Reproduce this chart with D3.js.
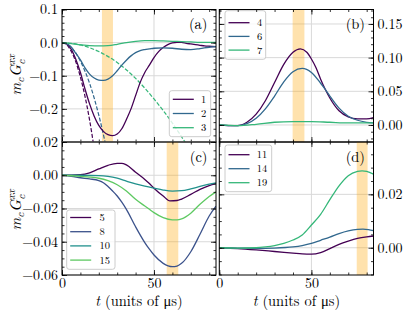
<!DOCTYPE html>
<html>
<head>
<meta charset="utf-8">
<script src="https://cdn.jsdelivr.net/npm/d3@7"></script>
<style>
  body { margin: 0; background: #fff; }
</style>
</head>
<body>
<svg id="figura"></svg>
<script>
// Dominio do tempo (mesmo para todos os paineis)
var dominioT = [0, 83.7];

// ---- Painel (a): curvas 1, 2, 3 e aproximacoes tracejadas ----
var rotulosA = ['1', '2', '3'];
var serie1 = [[0,0],[2.5,-0.004],[5,-0.02],[7.5,-0.05],[10,-0.09],[12.5,-0.14],[15,-0.185],[17.5,-0.222],[20,-0.25],[22.5,-0.268],[25,-0.278],[27.5,-0.281],[30,-0.276],[32.5,-0.26],[35,-0.232],[37.5,-0.2],[40,-0.16],[42.5,-0.12],[45,-0.09],[47.5,-0.068],[50,-0.045],[52.5,-0.027],[55,-0.015],[57.5,-0.006],[60,-0.001],[62.5,0.001],[65,0.0005],[67.5,-0.002],[70,-0.004],[72.5,-0.006],[75,-0.008],[77.5,-0.01],[80,-0.011],[83.7,-0.012]];
var serie2 = [[0,0],[2.5,-0.003],[5,-0.013],[7.5,-0.032],[10,-0.052],[12.5,-0.076],[15,-0.095],[17.5,-0.107],[20,-0.113],[22.5,-0.114],[25,-0.11],[27.5,-0.1],[30,-0.085],[32.5,-0.068],[35,-0.053],[37.5,-0.04],[40,-0.03],[42.5,-0.024],[45,-0.021],[47.5,-0.019],[50,-0.017],[55,-0.016],[60,-0.017],[65,-0.02],[70,-0.021],[75,-0.018],[80,-0.014],[83.7,-0.012]];
var serie3 = [[0,0],[5,-0.003],[10,-0.007],[15,-0.009],[20,-0.01],[25,-0.009],[30,-0.005],[35,0],[40,0.004],[45,0.006],[50,0.006],[55,0.005],[60,0.004],[65,0.003],[70,0.002],[75,0.001],[83.7,0.0005]];
var tracejada1 = [[0,0],[2.5,-0.0065],[5,-0.026],[7.5,-0.058],[10,-0.104],[12.5,-0.162],[15,-0.234],[17.5,-0.32]];
var tracejada2 = [[0,0],[5,-0.014],[10,-0.056],[15,-0.123],[20,-0.219],[24,-0.315]];
var tracejada3 = [[0,0],[10,-0.007],[20,-0.027],[30,-0.06],[40,-0.108],[50,-0.17],[60,-0.243],[68,-0.31]];

// ---- Painel (b): curvas 4, 6, 7 ----
var rotulosB = ['4', '6', '7'];
var serie4 = [[0,0],[5,-0.001],[10,-0.001],[15,0.004],[20,0.016],[25,0.036],[30,0.063],[35,0.09],[40,0.108],[44,0.113],[47.5,0.108],[50,0.098],[52.5,0.085],[55,0.068],[57.5,0.053],[60,0.04],[65,0.021],[70,0.012],[75,0.009],[80,0.009],[83.7,0.011]];
var serie6 = [[0,0],[5,-0.001],[10,-0.001],[15,0.002],[20,0.01],[25,0.024],[30,0.043],[35,0.064],[40,0.079],[45,0.084],[50,0.078],[55,0.062],[57.5,0.053],[60,0.043],[65,0.025],[70,0.013],[75,0.007],[80,0.004],[83.7,0.003]];
var serie7 = [[0,0],[10,-0.001],[20,0.001],[30,0.004],[40,0.005],[50,0.005],[60,0.004],[70,0.003],[83.7,0.003]];

// ---- Painel (c): curvas 5, 8, 10, 15 ----
var rotulosC = ['5', '8', '10', '15'];
var serie5 = [[0,0],[5,0],[10,0.0003],[15,0.0015],[20,0.0038],[25,0.006],[30,0.0072],[32.5,0.0072],[35,0.0062],[40,0.0018],[45,-0.0025],[47.5,-0.005],[50,-0.0078],[55,-0.0125],[58.7,-0.0154],[62.5,-0.0152],[65,-0.0143],[70,-0.0115],[75,-0.0085],[80,-0.0062],[83.7,-0.005]];
var serie8 = [[0,0],[5,-0.0006],[10,-0.0015],[15,-0.0022],[20,-0.0032],[22.5,-0.0045],[25,-0.0068],[27.5,-0.0095],[30,-0.0125],[32.5,-0.0162],[35,-0.0205],[40,-0.031],[45,-0.0405],[47.5,-0.0445],[50,-0.048],[55,-0.053],[60,-0.055],[62.5,-0.0546],[65,-0.053],[70,-0.046],[75,-0.0355],[80,-0.0245],[83.7,-0.0186]];
var serie10 = [[0,0],[10,0],[20,-0.0002],[25,-0.0007],[30,-0.0018],[35,-0.0035],[40,-0.0052],[45,-0.0066],[50,-0.0078],[55,-0.0089],[60,-0.0095],[65,-0.0093],[70,-0.0082],[75,-0.0067],[80,-0.0054],[83.7,-0.0046]];
var serie15 = [[0,0],[5,-0.0003],[10,-0.0007],[15,-0.0011],[20,-0.0018],[25,-0.0033],[30,-0.0057],[35,-0.0095],[40,-0.0145],[45,-0.0185],[47.5,-0.0205],[50,-0.0225],[55,-0.0255],[60,-0.0268],[62.5,-0.0268],[65,-0.0262],[70,-0.0228],[75,-0.0175],[80,-0.0128],[83.7,-0.01]];

// ---- Painel (d): curvas 11, 14, 19 ----
var rotulosD = ['11', '14', '19'];
var serie11 = [[0,0],[10,-0.0003],[20,-0.0008],[30,-0.0014],[40,-0.002],[45,-0.0023],[50,-0.0024],[55,-0.0018],[60,-0.0003],[65,0.0013],[70,0.0025],[75,0.0035],[80,0.0041],[83.7,0.0044]];
var serie14 = [[0,0],[10,-0.0001],[20,-0.0002],[30,-0.0001],[40,0.0003],[45,0.0008],[50,0.0016],[55,0.0028],[60,0.004],[65,0.0053],[70,0.0063],[75,0.0069],[78,0.007],[81,0.0068],[83.7,0.0064]];
var serie19 = [[0,0],[10,-0.0001],[20,0],[25,0.0003],[30,0.0008],[35,0.0016],[40,0.0029],[45,0.0048],[50,0.0085],[55,0.0125],[60,0.018],[65,0.0232],[70,0.027],[75,0.0286],[77.5,0.0288],[80,0.0286],[83.7,0.0276]];

// Faixas laranjas (intervalos de tempo)
var faixaA = [21.7, 27.7];
var faixaB = [39.8, 46.2];
var faixaC = [56.9, 63.2];
var faixaD = [74.6, 80.5];

// Ticks
var ticksT = [0, 50];
var ticksYA = [-0.2, -0.1, 0, 0.1];
var ticksYB = [0, 0.05, 0.1, 0.15];
var ticksYC = [-0.06, -0.04, -0.02, 0, 0.02];
var ticksYD = [0, 0.02];

var FONTE = 'Latin Modern Roman';

var svg = d3.select('#figura').attr('width', 415).attr('height', 312)
            .attr('font-family', FONTE);

function cores(n) {
  var passo = n === 4 ? 0.25 : 1/3;
  return d3.range(n).map(i => d3.interpolateViridis(i*passo));
}

function menores(dom, passo) {
  var a = Math.ceil(dom[0]/passo - 1e-6), b = Math.floor(dom[1]/passo + 1e-6);
  return d3.range(a, b+1).map(i => +(i*passo).toFixed(6));
}

function desenhaPainel(p) {
  var x = d3.scaleLinear().domain(dominioT).range([p.esq, p.dir]);
  var y = d3.scaleLinear().domain(p.domY).range([p.inf, p.sup]);
  var g = svg.append('g');

  svg.append('clipPath').attr('id', 'clip-'+p.nome)
     .append('rect')
     .attr('x', p.esq).attr('y', p.sup)
     .attr('width', p.dir-p.esq).attr('height', p.inf-p.sup);

  // linhas de grade
  var grade = g.append('g').attr('stroke', '#d9d9d9').attr('stroke-width', 1);
  grade.selectAll('.gy').data(p.ticksY).join('line')
       .attr('x1', p.esq).attr('x2', p.dir)
       .attr('y1', d => y(d)).attr('y2', d => y(d));
  grade.selectAll('.gx').data(ticksT).join('line')
       .attr('x1', d => x(d)).attr('x2', d => x(d))
       .attr('y1', p.sup).attr('y2', p.inf);

  // faixa laranja
  g.append('rect')
   .attr('x', x(p.faixa[0])).attr('width', x(p.faixa[1])-x(p.faixa[0]))
   .attr('y', p.sup).attr('height', p.inf-p.sup)
   .attr('fill', 'orange').attr('opacity', 0.32);

  // curvas
  var linha = d3.line().x(d => x(d[0])).y(d => y(d[1])).curve(d3.curveMonotoneX);
  var cs = cores(p.series.length);
  var curvas = g.append('g').attr('clip-path', 'url(#clip-'+p.nome+')').attr('fill', 'none');
  (p.tracejadas || []).forEach(function(s, i) {
    curvas.append('path').attr('d', linha(s)).attr('stroke', cs[i])
          .attr('stroke-width', 1.2).attr('stroke-dasharray', '4,1.8');
  });
  p.series.forEach(function(s, i) {
    curvas.append('path').attr('d', linha(s)).attr('stroke', cs[i]).attr('stroke-width', 1.3);
  });

  // legenda
  var L = p.legenda;
  var lg = g.append('g');
  lg.append('rect').attr('x', L.x).attr('y', L.y).attr('width', L.w).attr('height', L.h)
    .attr('rx', 2.5).attr('fill', 'white').attr('fill-opacity', 0.8)
    .attr('stroke', '#cccccc').attr('stroke-width', 1);
  p.rotulos.forEach(function(r, i) {
    var yy = L.y0 + i*L.dy;
    lg.append('line').attr('x1', L.x+3.5).attr('x2', L.x+24.5).attr('y1', yy).attr('y2', yy)
      .attr('stroke', cs[i]).attr('stroke-width', 1.3);
    lg.append('text').attr('x', L.tx).attr('y', yy+3.5).text(r)
      .attr('font-family', FONTE).style('font-size', '10.5px');
  });

  // moldura
  g.append('rect').attr('x', p.esq).attr('y', p.sup)
   .attr('width', p.dir-p.esq).attr('height', p.inf-p.sup)
   .attr('fill', 'none').attr('stroke', 'black').attr('stroke-width', 1);

  // eixos (ticks para dentro em todos os lados)
  var fmtY = d3.format(p.fmt);
  function eixo(gerador, transl, valores, tam, rotulos, fmt, pad) {
    var e = g.append('g').attr('transform', transl)
      .call(gerador.tickValues(valores).tickSize(-tam).tickPadding(pad || 4)
                   .tickFormat(rotulos ? fmt : ''));
    e.select('.domain').remove();
    e.attr('font-family', FONTE).attr('font-size', null);
    e.selectAll('line').attr('stroke-width', 0.8);
    e.selectAll('text').attr('font-family', FONTE).style('font-size', '14px');
    return e;
  }
  var minY = menores(p.domY, p.passoY), minT = menores(dominioT, 10);
  eixo(d3.axisLeft(y), 'translate('+p.esq+',0)', p.ticksY, 5, p.lado === 'esq', fmtY);
  eixo(d3.axisLeft(y), 'translate('+p.esq+',0)', minY, 2.5, false);
  eixo(d3.axisRight(y), 'translate('+p.dir+',0)', p.ticksY, 5, p.lado === 'dir', fmtY);
  eixo(d3.axisRight(y), 'translate('+p.dir+',0)', minY, 2.5, false);
  eixo(d3.axisBottom(x), 'translate(0,'+p.inf+')', ticksT, 5, p.rotX, d3.format('d'), 3);
  eixo(d3.axisBottom(x), 'translate(0,'+p.inf+')', minT, 2.5, false);
  eixo(d3.axisTop(x), 'translate(0,'+p.sup+')', ticksT, 5, false);
  eixo(d3.axisTop(x), 'translate(0,'+p.sup+')', minT, 2.5, false);

  // rotulo do painel
  g.append('text').attr('x', p.dir-8.5).attr('y', p.sup+19.5)
   .attr('text-anchor', 'end').attr('font-family', FONTE).style('font-size', '14.5px')
   .text('('+p.nome+')');

  // titulo do eixo x
  if (p.rotX) {
    var tx = g.append('text').attr('x', (p.esq+p.dir)/2).attr('y', 305.5)
              .attr('text-anchor', 'middle').attr('font-family', FONTE).style('font-size', '14.5px');
    tx.append('tspan').style('font-style', 'italic').text('t');
    tx.append('tspan').text(' (units of μs)');
  }
}

function rotuloY(cy) {
  var t = svg.append('text').attr('transform', 'translate(21,'+cy+') rotate(-90)')
             .attr('text-anchor', 'middle').attr('font-family', FONTE)
             .style('font-size', '15.5px').style('font-style', 'italic');
  t.append('tspan').text('m');
  t.append('tspan').text('c').attr('dy', 3).style('font-size', '11px');
  t.append('tspan').text('G').attr('dy', -3).attr('dx', 1);
  t.append('tspan').text('c').attr('dy', 3.5).style('font-size', '11px');
  t.append('tspan').text('xx').attr('dx', -5).attr('dy', -10).style('font-size', '11px');
}

var paineis = [
  { nome: 'a', esq: 62, dir: 216, sup: 9.5, inf: 142, domY: [-0.3, 0.1], ticksY: ticksYA, passoY: 0.02,
    fmt: '.1f', lado: 'esq', rotX: false, series: [serie1, serie2, serie3],
    tracejadas: [tracejada1, tracejada2, tracejada3], rotulos: rotulosA, faixa: faixaA,
    legenda: { x: 169.3, y: 90.7, w: 41.4, h: 46, y0: 99.3, dy: 14.2, tx: 201 } },
  { nome: 'b', esq: 219.3, dir: 373.5, sup: 9.5, inf: 142, domY: [-0.0253, 0.1715], ticksY: ticksYB, passoY: 0.01,
    fmt: '.2f', lado: 'dir', rotX: false, series: [serie4, serie6, serie7], rotulos: rotulosB, faixa: faixaB,
    legenda: { x: 225, y: 10.7, w: 40.7, h: 48.6, y0: 22.7, dy: 13.7, tx: 257 } },
  { nome: 'c', esq: 62, dir: 216, sup: 142, inf: 275, domY: [-0.06, 0.02], ticksY: ticksYC, passoY: 0.005,
    fmt: '.2f', lado: 'esq', rotX: true, series: [serie5, serie8, serie10, serie15], rotulos: rotulosC, faixa: faixaC,
    legenda: { x: 66.7, y: 210, w: 48.3, h: 59.3, y0: 217.5, dy: 14.2, tx: 99.5 } },
  { nome: 'd', esq: 219.3, dir: 373.5, sup: 142, inf: 275, domY: [-0.0102, 0.0396], ticksY: ticksYD, passoY: 0.005,
    fmt: '.2f', lado: 'dir', rotX: true, series: [serie11, serie14, serie19], rotulos: rotulosD, faixa: faixaD,
    legenda: { x: 225, y: 145, w: 46.7, h: 46.7, y0: 154.7, dy: 14, tx: 256.7 } }
];

paineis.forEach(desenhaPainel);
rotuloY(75);
rotuloY(210);
</script>
</body>
</html>
